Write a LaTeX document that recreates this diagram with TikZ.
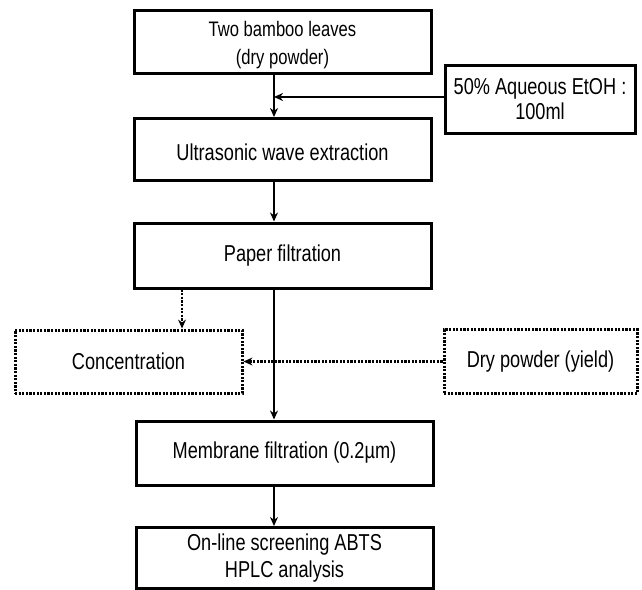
\documentclass[tikz,border=0pt]{standalone}
\usepackage{fontspec}
\setmainfont[FakeStretch=0.79]{Liberation Sans}
\usetikzlibrary{arrows.meta}
\begin{document}
\begin{tikzpicture}[x=1pt,y=-1pt,
  solidbox/.style={draw=black,line width=3pt,inner sep=0pt,align=center,
    font=\fontsize{23}{26}\selectfont},
  dotbox/.style={draw=black,line width=3pt,dash pattern=on 2.2pt off 1.4pt,inner sep=0pt,align=center,
    font=\fontsize{23}{26}\selectfont},
  boxtext/.style={inner sep=0pt,align=center},
  flow/.style={line width=2.4pt,-{Stealth[length=9pt,width=8pt]}},
  dotflow/.style={line width=2.8pt,dash pattern=on 2.2pt off 1.4pt,-{Stealth[length=9pt,width=8pt,line width=0pt]}}]
\useasboundingbox (0,0) rectangle (642,589);
\node[solidbox,minimum width=297pt,minimum height=63pt] (b1) at (282.5,41.5) {};
\node[boxtext,font=\fontsize{21}{28}\selectfont] (b1t) at (282.5,45) {Two bamboo leaves\\(dry powder)};
\node[solidbox,minimum width=190pt,minimum height=68pt,font=\fontsize{23}{25}\selectfont] (etoh) at (540,99) {50\% Aqueous EtOH :\\100ml};
\node[solidbox,minimum width=297pt,minimum height=62pt] (ultra) at (282.5,149.5) {};
\node[boxtext,font=\fontsize{23}{26}\selectfont] (ultrat) at (282.5,152) {Ultrasonic wave extraction};
\node[solidbox,minimum width=297pt,minimum height=65pt] (paper) at (282.5,255.5) {Paper filtration};
\node[dotbox,minimum width=227pt,minimum height=63pt] (conc) at (128.5,361.5) {Concentration};
\node[dotbox,minimum width=193pt,minimum height=64pt] (dry) at (540.5,361.5) {Dry powder (yield)};
\node[solidbox,minimum width=297pt,minimum height=64pt] (memb) at (284.5,453) {Membrane filtration (0.2µm)};
\node[solidbox,minimum width=297pt,minimum height=61pt,font=\fontsize{23}{27}\selectfont] (final) at (284.5,558) {On-line screening ABTS\\HPLC analysis};
\coordinate (m) at (274,0);
\coordinate (d) at (182,0);
\coordinate (j) at (274,97);
\draw[flow] (b1.south -| m) -- (ultra.north -| m);
\draw[flow] (etoh.west |- j) -- (j);
\draw[flow] (ultra.south -| m) -- (paper.north -| m);
\draw[dotflow] (paper.south -| d) -- (conc.north -| d);
\draw[dotflow] (dry.west) -- (conc.east);
\draw[flow] (paper.south -| m) -- (memb.north -| m);
\draw[flow] (memb.south -| m) -- (final.north -| m);
\end{tikzpicture}
\end{document}
